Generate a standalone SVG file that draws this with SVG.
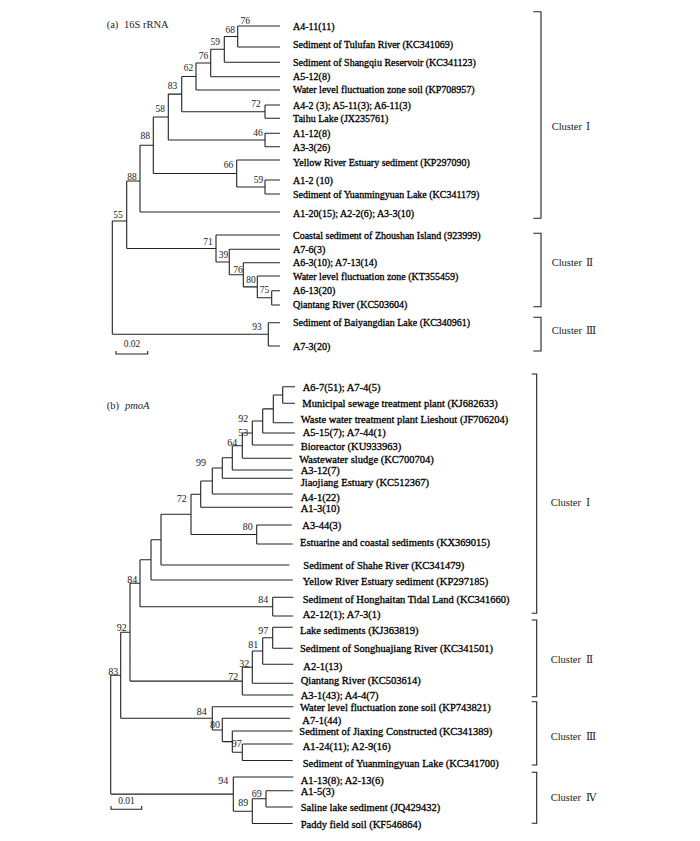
<svg xmlns="http://www.w3.org/2000/svg" width="700" height="841" viewBox="0 0 700 841">
<style>
.br{fill:none;stroke:#222;stroke-width:1.1}
.la{font-family:"Liberation Serif","DejaVu Serif",serif;font-size:10px;fill:#000;stroke:#000;stroke-width:0.3}
.lb{font-family:"Liberation Serif","DejaVu Serif",serif;font-size:10.5px;fill:#000;stroke:#000;stroke-width:0.3}
.bs{font-family:"Liberation Serif","DejaVu Serif",serif;font-size:9.5px;fill:#222;text-anchor:end}
.bsb{font-family:"Liberation Serif","DejaVu Serif",serif;font-size:10px;fill:#222;text-anchor:end}
.cl{font-family:"Liberation Serif","DejaVu Serif","Noto Sans CJK SC",serif;font-size:10.5px;fill:#222}
.tt{font-family:"Liberation Serif","DejaVu Serif",serif;font-size:10.5px;fill:#222}
.sc{font-family:"Liberation Serif","DejaVu Serif",serif;font-size:9.5px;fill:#222;text-anchor:middle}
</style>
<rect width="700" height="841" fill="#fff"/>

<text class="tt" x="106.7" y="28">(a)<tspan x="124">16S rRNA</tspan></text>
<text class="tt" x="106.7" y="408.5">(b)<tspan x="125" font-style="italic">pmoA</tspan></text>

<g id="connectors-a">
<path class="br" d="M112.3,221 V334.3 M112.3,221 H126.7 M112.3,334.3 H268.3
M126.7,181 V248.5 M126.7,181 H140 M126.7,248.5 H216
M140,145.3 V212 M140,145.3 H153.3 M140,212 H280
M153.3,117 V173.5 M153.3,117 H168.3 M153.3,173.5 H236.7
M168.3,94.1 V140 M168.3,94.1 H181.7 M168.3,140 H265
M181.7,76.5 V111.7 M181.7,76.5 H196 M181.7,111.7 H265
M196,63 V90 M196,63 H210.7 M196,90 H280
M210.7,49.2 V76.7 M210.7,49.2 H224.3 M210.7,76.7 H280
M224.3,36.5 V62.3 M224.3,36.5 H237.7 M224.3,62.3 H280
M237.7,26 V47 M237.7,26 H280 M237.7,47 H280
M265,105 V118.3 M265,105 H280 M265,118.3 H280
M265,133.3 V146.7 M265,133.3 H280 M265,146.7 H280
M236.7,160 V187 M236.7,160 H280 M236.7,187 H265
M265,180 V194 M265,180 H280 M265,194 H280
M216,235 V262 M216,235 H280 M216,262 H229.3
M229.3,249.3 V274.8 M229.3,249.3 H280 M229.3,274.8 H243.3
M243.3,262.7 V286.9 M243.3,262.7 H280 M243.3,286.9 H257.3
M257.3,276 V297.8 M257.3,276 H280 M257.3,297.8 H271.7
M271.7,290.7 V305 M271.7,290.7 H280 M271.7,305 H280
M268.3,322.7 V346 M268.3,322.7 H280 M268.3,346 H280"/>
<path class="br" d="M116,351 V354 H147.7 V351"/>
<path class="br" d="M533.3,11.7 H541 V218.3 H533.3 M533.3,233.3 H541 V306.7 H533.3 M533.3,317.3 H541 V351 H533.3"/>
</g>

<g id="connectors-b">
<path class="br" d="M110.7,675.2 V794.1 M110.7,675.2 H120.7 M110.7,794.1 H233.3
M120.7,632.2 V718.3 M120.7,632.2 H130 M120.7,718.3 H212.3
M130,583.2 V681.1 M130,583.2 H140 M130,681.1 H242.3
M140,559.8 V606.7 M140,559.8 H151 M140,606.7 H272.7
M151,539.7 V580 M151,539.7 H161 M151,580 H292.7
M161,514.3 V565 M161,514.3 H191 M161,565 H289.3
M191,494.2 V534.5 M191,494.2 H200.7 M191,534.5 H256.7
M200.7,481 V507.3 M200.7,481 H212.3 M200.7,507.3 H292.7
M212.3,468 V494 M212.3,468 H222.3 M212.3,494 H292.7
M222.3,457.8 V478.3 M222.3,457.8 H232.3 M222.3,478.3 H292.7
M232.3,445.7 V470 M232.3,445.7 H242.3 M232.3,470 H292.7
M242.3,433 V458.3 M242.3,433 H252.3 M242.3,458.3 H291.7
M252.3,421 V445 M252.3,421 H262.7 M252.3,445 H293.3
M262.7,408.9 V433 M262.7,408.9 H273.3 M262.7,433 H295
M273.3,395 V422.7 M273.3,395 H282.7 M273.3,422.7 H293.3
M282.7,386.7 V403.3 M282.7,386.7 H295 M282.7,403.3 H295
M256.7,525 V544 M256.7,525 H291.7 M256.7,544 H292.7
M272.7,597.3 V616 M272.7,597.3 H293.3 M272.7,616 H293.3
M242.3,667.2 V695 M242.3,667.2 H252.3 M242.3,695 H293.3
M252.3,651 V683.3 M252.3,651 H262.7 M252.3,683.3 H293.3
M262.7,637.8 V664.3 M262.7,637.8 H272.7 M262.7,664.3 H293.3
M272.7,627.3 V648.3 M272.7,627.3 H292.7 M272.7,648.3 H292.7
M212.3,706.7 V730 M212.3,706.7 H293.3 M212.3,730 H222.3
M222.3,718.3 V741.6 M222.3,718.3 H290 M222.3,741.6 H232.3
M232.3,731 V752.3 M232.3,731 H292.7 M232.3,752.3 H242.3
M242.3,744 V760.5 M242.3,744 H292.7 M242.3,760.5 H292.7
M233.3,777 V811.2 M233.3,777 H293.3 M233.3,811.2 H252.3
M252.3,798.8 V823.5 M252.3,798.8 H266 M252.3,823.5 H292.7
M266,790.7 V807 M266,790.7 H293.3 M266,807 H292.7"/>
<path class="br" d="M111,806 V809.3 H141.7 V806"/>
<path class="br" d="M531.7,374 H536.7 V613.3 H531.7 M531.7,620 H536.7 V696.7 H531.7 M531.7,701.7 H536.7 V765 H531.7 M531.7,772.3 H536.7 V823.3 H531.7"/>
</g>

<g id="bootstrap-a">
<text class="bs" x="250" y="23.5">76</text>
<text class="bs" x="235" y="32.5">68</text>
<text class="bs" x="220" y="44.5">59</text>
<text class="bs" x="208.3" y="58.5">76</text>
<text class="bs" x="193.3" y="70.5">62</text>
<text class="bs" x="177.3" y="88.5">83</text>
<text class="bs" x="260.7" y="107">72</text>
<text class="bs" x="165" y="111.5">58</text>
<text class="bs" x="262.7" y="136">46</text>
<text class="bs" x="150" y="139.3">88</text>
<text class="bs" x="233.3" y="167.7">66</text>
<text class="bs" x="263.3" y="182.7">59</text>
<text class="bs" x="136.7" y="180">88</text>
<text class="bs" x="122.7" y="218.3">55</text>
<text class="bs" x="212.7" y="245">71</text>
<text class="bs" x="228.3" y="258.3">39</text>
<text class="bs" x="242.7" y="272.7">76</text>
<text class="bs" x="255.7" y="283.3">80</text>
<text class="bs" x="269.3" y="293.3">75</text>
<text class="bs" x="261.7" y="330">93</text>
<text class="sc" x="132" y="347">0.02</text>
</g>

<g id="bootstrap-b">
<text class="bsb" x="248.3" y="422">92</text>
<text class="bsb" x="248.3" y="436">53</text>
<text class="bsb" x="237.3" y="446">64</text>
<text class="bsb" x="206" y="466">99</text>
<text class="bsb" x="186.7" y="501.7">72</text>
<text class="bsb" x="252.7" y="530">80</text>
<text class="bsb" x="137.3" y="582.7">84</text>
<text class="bsb" x="268.3" y="603.3">84</text>
<text class="bsb" x="126.7" y="630.7">92</text>
<text class="bsb" x="268.3" y="634">97</text>
<text class="bsb" x="258.3" y="648.3">81</text>
<text class="bsb" x="249.3" y="666.7">32</text>
<text class="bsb" x="238.3" y="680">72</text>
<text class="bsb" x="118.3" y="675">83</text>
<text class="bsb" x="206.7" y="715">84</text>
<text class="bsb" x="220" y="728">80</text>
<text class="bsb" x="241.7" y="747">97</text>
<text class="bsb" x="228.3" y="784">94</text>
<text class="bsb" x="261.7" y="796.7">69</text>
<text class="bsb" x="248.3" y="806">89</text>
<text class="sc" x="126.5" y="803.5">0.01</text>
</g>

<g id="leaf-a1"><text class="la" x="293" y="29.5">A4-11(11)</text></g>
<g id="leaf-a2"><text class="la" x="293" y="48">Sediment of Tulufan River (KC341069)</text></g>
<g id="leaf-a3"><text class="la" x="293" y="65.5">Sediment of Shangqiu Reservoir (KC341123)</text></g>
<g id="leaf-a4"><text class="la" x="293" y="79.5">A5-12(8)</text></g>
<g id="leaf-a5"><text class="la" x="293" y="93">Water level fluctuation zone soil (KP708957)</text></g>
<g id="leaf-a6"><text class="la" x="293" y="109">A4-2 (3); A5-11(3); A6-11(3)</text></g>
<g id="leaf-a7"><text class="la" x="293" y="121.8">Taihu Lake (JX235761)</text></g>
<g id="leaf-a8"><text class="la" x="293" y="136.5">A1-12(8)</text></g>
<g id="leaf-a9"><text class="la" x="293" y="150.5">A3-3(26)</text></g>
<g id="leaf-a10"><text class="la" x="293" y="165.5">Yellow River Estuary sediment (KP297090)</text></g>
<g id="leaf-a11"><text class="la" x="293" y="183.5">A1-2 (10)</text></g>
<g id="leaf-a12"><text class="la" x="293" y="197.5">Sediment of Yuanmingyuan Lake (KC341179)</text></g>
<g id="leaf-a13"><text class="la" x="293" y="217">A1-20(15); A2-2(6); A3-3(10)</text></g>
<g id="leaf-a14"><text class="la" x="293" y="238.5">Coastal sediment of Zhoushan Island (923999)</text></g>
<g id="leaf-a15"><text class="la" x="293" y="252.8">A7-6(3)</text></g>
<g id="leaf-a16"><text class="la" x="293" y="266.2">A6-3(10); A7-13(14)</text></g>
<g id="leaf-a17"><text class="la" x="293" y="279.5">Water level fluctuation zone (KT355459)</text></g>
<g id="leaf-a18"><text class="la" x="293" y="294.2">A6-13(20)</text></g>
<g id="leaf-a19"><text class="la" x="293" y="308.3">Qiantang River (KC503604)</text></g>
<g id="leaf-a20"><text class="la" x="293" y="326">Sediment of Baiyangdian Lake (KC340961)</text></g>
<g id="leaf-a21"><text class="la" x="293" y="349.5">A7-3(20)</text></g>

<g id="leaf-b1"><text class="lb" x="302.7" y="390.5">A6-7(51); A7-4(5)</text></g>
<g id="leaf-b2"><text class="lb" x="302.3" y="406.5">Municipal sewage treatment plant (KJ682633)</text></g>
<g id="leaf-b3"><text class="lb" x="300.7" y="422.8">Waste water treatment plant Lieshout (JF706204)</text></g>
<g id="leaf-b4"><text class="lb" x="302.7" y="435.5">A5-15(7); A7-44(1)</text></g>
<g id="leaf-b5"><text class="lb" x="300.7" y="449.8">Bioreactor (KU933963)</text></g>
<g id="leaf-b6"><text class="lb" x="299.3" y="462.8">Wastewater sludge (KC700704)</text></g>
<g id="leaf-b7"><text class="lb" x="300.7" y="473.8">A3-12(7)</text></g>
<g id="leaf-b8"><text class="lb" x="300.7" y="485.5">Jiaojiang Estuary (KC512367)</text></g>
<g id="leaf-b9"><text class="lb" x="300.7" y="500.5">A4-1(22)</text></g>
<g id="leaf-b10"><text class="lb" x="300.7" y="512">A1-3(10)</text></g>
<g id="leaf-b11"><text class="lb" x="302.3" y="528.8">A3-44(3)</text></g>
<g id="leaf-b12"><text class="lb" x="300" y="545.5">Estuarine and coastal sediments (KX369015)</text></g>
<g id="leaf-b13"><text class="lb" x="303.3" y="568.8">Sediment of Shahe River (KC341479)</text></g>
<g id="leaf-b14"><text class="lb" x="302.7" y="584.5">Yellow River Estuary sediment (KP297185)</text></g>
<g id="leaf-b15"><text class="lb" x="302.7" y="602.8">Sediment of Honghaitan Tidal Land (KC341660)</text></g>
<g id="leaf-b16"><text class="lb" x="302.7" y="618">A2-12(1); A7-3(1)</text></g>
<g id="leaf-b17"><text class="lb" x="300" y="633.8">Lake sediments (KJ363819)</text></g>
<g id="leaf-b18"><text class="lb" x="300" y="652">Sediment of Songhuajiang River (KC341501)</text></g>
<g id="leaf-b19"><text class="lb" x="303.3" y="669.5">A2-1(13)</text></g>
<g id="leaf-b20"><text class="lb" x="300.7" y="683.8">Qiantang River (KC503614)</text></g>
<g id="leaf-b21"><text class="lb" x="300.7" y="698.8">A3-1(43); A4-4(7)</text></g>
<g id="leaf-b22"><text class="lb" x="300" y="711">Water level fluctuation zone soil (KP743821)</text></g>
<g id="leaf-b23"><text class="lb" x="302.3" y="723.8">A7-1(44)</text></g>
<g id="leaf-b24"><text class="lb" x="299.3" y="734.8">Sediment of Jiaxing Constructed (KC341389)</text></g>
<g id="leaf-b25"><text class="lb" x="302.7" y="749.8">A1-24(11); A2-9(16)</text></g>
<g id="leaf-b26"><text class="lb" x="302.7" y="767">Sediment of Yuanmingyuan Lake (KC341700)</text></g>
<g id="leaf-b27"><text class="lb" x="300.7" y="784.3">A1-13(8); A2-13(6)</text></g>
<g id="leaf-b28"><text class="lb" x="300.7" y="795.3">A1-5(3)</text></g>
<g id="leaf-b29"><text class="lb" x="300.7" y="810.8">Saline lake sediment (JQ429432)</text></g>
<g id="leaf-b30"><text class="lb" x="300.7" y="828.3">Paddy field soil (KF546864)</text></g>

<g id="cluster-a1"><text class="cl" x="551.7" y="130">Cluster<tspan x="586">Ⅰ</tspan></text></g>
<g id="cluster-a2"><text class="cl" x="551.7" y="266">Cluster<tspan x="586">Ⅱ</tspan></text></g>
<g id="cluster-a3"><text class="cl" x="551.7" y="333.5">Cluster<tspan x="586">Ⅲ</tspan></text></g>
<g id="cluster-b1"><text class="cl" x="550.7" y="506">Cluster<tspan x="586">Ⅰ</tspan></text></g>
<g id="cluster-b2"><text class="cl" x="550.7" y="662.5">Cluster<tspan x="586">Ⅱ</tspan></text></g>
<g id="cluster-b3"><text class="cl" x="550.7" y="740">Cluster<tspan x="586">Ⅲ</tspan></text></g>
<g id="cluster-b4"><text class="cl" x="550.7" y="801">Cluster<tspan x="586">Ⅳ</tspan></text></g>
</svg>
